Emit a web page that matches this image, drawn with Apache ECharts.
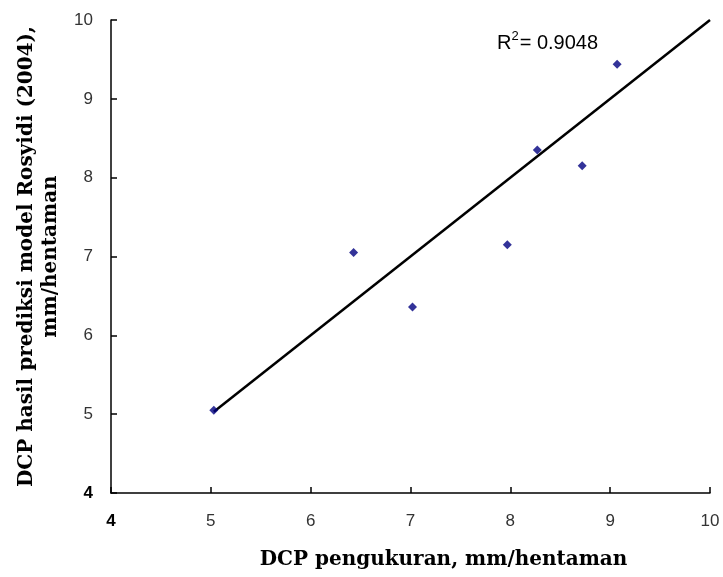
<!DOCTYPE html>
<html>
<head>
<meta charset="utf-8">
<script src="https://cdn.jsdelivr.net/npm/echarts@6/dist/echarts.min.js"></script>
<style>
  html, body { margin: 0; padding: 0; background: #fff; }
  #chart { width: 723px; height: 577px; }
</style>
</head>
<body>
<div id="chart"></div>
<script>
// Measured DCP values (mm/hentaman)
const dcpMeasured = [5.03, 6.43, 7.02, 7.97, 8.27, 8.72, 9.07];
// Predicted DCP values, Rosyidi (2004) model
const dcpPredicted = [5.05, 7.05, 6.36, 7.15, 8.35, 8.15, 9.44];
// Trend line end points (y = x)
const trendX = [5.03, 10];
const trendY = [5.03, 10];
const rSquared = '0.9048';
const tickValues = [4, 5, 6, 7, 8, 9, 10];

const points = dcpMeasured.map((x, i) => [x, dcpPredicted[i]]);
const trend = trendX.map((x, i) => [x, trendY[i]]);

const chart = echarts.init(document.getElementById('chart'), null, { renderer: 'canvas' });

const tickLabel = (v) => (v === tickValues[0] ? '{b|' + v + '}' : String(v));
const labelRich = { b: { fontWeight: 'bold', fontFamily: 'Liberation Sans', fontSize: 17, color: '#000' } };
const titleStyle = { fontFamily: 'DejaVu Serif', fontWeight: 'bold', fontSize: 20, color: '#000', lineHeight: 24 };

chart.setOption({
  animation: false,
  grid: { left: 111, right: 13, top: 20, bottom: 79, containLabel: false },
  xAxis: {
    type: 'value', min: 4, max: 10, interval: 1,
    name: 'DCP pengukuran, mm/hentaman',
    nameLocation: 'middle', nameGap: 55,
    nameTextStyle: Object.assign({}, titleStyle, { padding: [0, 0, 0, 66] }),
    axisLine: { lineStyle: { color: '#000', width: 1.5 } },
    axisTick: { inside: true, length: 6, lineStyle: { color: '#000', width: 1.5 } },
    axisLabel: { margin: 20, fontFamily: 'Liberation Sans', fontSize: 17, color: '#333', formatter: tickLabel, rich: labelRich },
    splitLine: { show: false }
  },
  yAxis: {
    type: 'value', min: 4, max: 10, interval: 1,
    name: 'DCP hasil prediksi model Rosyidi (2004),\nmm/hentaman',
    nameLocation: 'middle', nameGap: 46, nameRotate: 90,
    nameTextStyle: titleStyle,
    axisLine: { lineStyle: { color: '#000', width: 1.5 } },
    axisTick: { inside: true, length: 6, lineStyle: { color: '#000', width: 1.5 } },
    axisLabel: { margin: 18, fontFamily: 'Liberation Sans', fontSize: 17, color: '#333', formatter: tickLabel, rich: labelRich },
    splitLine: { show: false }
  },
  series: [
    {
      type: 'line', data: trend, symbol: 'none',
      lineStyle: { color: '#000', width: 2.5 }, z: 2
    },
    {
      type: 'scatter', data: points, symbol: 'diamond', symbolSize: 9,
      itemStyle: { color: '#000080' }, z: 3
    }
  ],
  graphic: [{
    type: 'text', left: 497, top: 30,
    style: {
      text: '{r|R}{s|2}{r|= ' + rSquared + '}',
      rich: {
        r: { fontFamily: 'Liberation Sans', fontSize: 20, color: '#222', verticalAlign: 'bottom' },
        s: { fontFamily: 'Liberation Sans', fontSize: 13, color: '#222', verticalAlign: 'top', padding: [0, 1, 10, 0] }
      }
    }
  }]
});
</script>
</body>
</html>
